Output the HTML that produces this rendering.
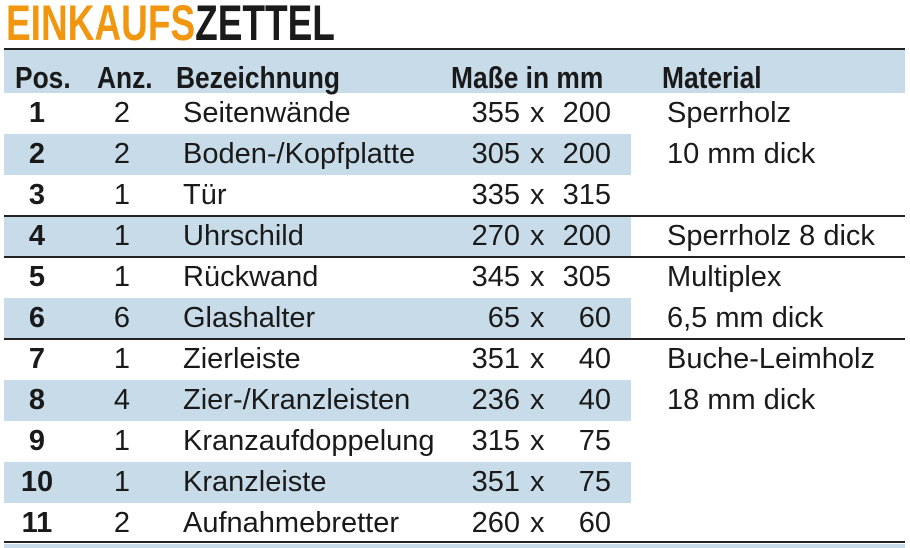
<!DOCTYPE html>
<html><head><meta charset="utf-8"><style>
body{margin:0;width:910px;height:548px;background:#fff;overflow:hidden;position:relative;font-family:"Liberation Sans Narrow","Liberation Sans",sans-serif;color:#1a1a1a}
.t{position:absolute;white-space:nowrap;font-size:29px;line-height:30px;transform-origin:left center}
.r{transform-origin:right center;text-align:right}
.c{transform-origin:center center;text-align:center}
.b{font-weight:bold}
.sh{position:absolute;left:4px;width:627px;height:41px;background:#c7dce8}
.ln{position:absolute;left:4px;width:901px;height:2px;background:#222}
</style></head><body>
<div class="t b" style="left:6px;top:0px;font-size:50px;line-height:46px;transform:scaleX(.74)"><span style="color:#f0960f">EINKAUFS</span>ZETTEL</div>
<div style="position:absolute;left:4px;top:50px;width:901px;height:43px;background:#c7dce8"></div>
<div class="ln" style="top:48px"></div>
<div class="sh" style="top:134px"></div>
<div class="sh" style="top:216px"></div>
<div class="sh" style="top:298px"></div>
<div class="sh" style="top:380px"></div>
<div class="sh" style="top:462px"></div>
<div class="ln" style="top:215px"></div>
<div class="ln" style="top:256px"></div>
<div class="ln" style="top:338px"></div>
<div class="ln" style="top:541px"></div>
<div style="position:absolute;left:4px;top:544px;width:901px;height:4px;background:#c7dce8"></div>
<div class="t b" style="left:15px;top:63px;font-size:31px;transform:scaleX(.85)">Pos.</div>
<div class="t b" style="left:97px;top:63px;font-size:31px;transform:scaleX(.85)">Anz.</div>
<div class="t b" style="left:176px;top:63px;font-size:31px;transform:scaleX(.85)">Bezeichnung</div>
<div class="t b" style="left:451px;top:63px;font-size:31px;transform:scaleX(.85)">Maße in mm</div>
<div class="t b" style="left:662px;top:63px;font-size:31px;transform:scaleX(.85)">Material</div>
<div id="rows"></div>
<script>
var d=[["1","2","Seitenwände","355","200"],["2","2","Boden-/Kopfplatte","305","200"],["3","1","Tür","335","315"],["4","1","Uhrschild","270","200"],["5","1","Rückwand","345","305"],["6","6","Glashalter","65","60"],["7","1","Zierleiste","351","40"],["8","4","Zier-/Kranzleisten","236","40"],["9","1","Kranzaufdoppelung","315","75"],["10","1","Kranzleiste","351","75"],["11","2","Aufnahmebretter","260","60"]];
var m=["Sperrholz","10 mm dick","","Sperrholz 8 dick","Multiplex","6,5 mm dick","Buche-Leimholz","18 mm dick","","",""];
var h="";
for(var i=0;i<11;i++){var y=98+41*i;
h+='<div class="t b c" style="left:2px;width:70px;top:'+y+'px">'+d[i][0]+'</div>';
h+='<div class="t c" style="left:92px;width:60px;top:'+y+'px">'+d[i][1]+'</div>';
h+='<div class="t" style="left:183px;top:'+y+'px">'+d[i][2]+'</div>';
h+='<div class="t r" style="left:420px;width:100px;top:'+y+'px">'+d[i][3]+'</div>';
h+='<div class="t" style="left:530px;top:'+y+'px">x</div>';
h+='<div class="t r" style="left:511px;width:100px;top:'+y+'px">'+d[i][4]+'</div>';
if(m[i])h+='<div class="t" style="left:667px;top:'+y+'px">'+m[i]+'</div>';}
document.getElementById("rows").innerHTML=h;
</script>
</body></html>
